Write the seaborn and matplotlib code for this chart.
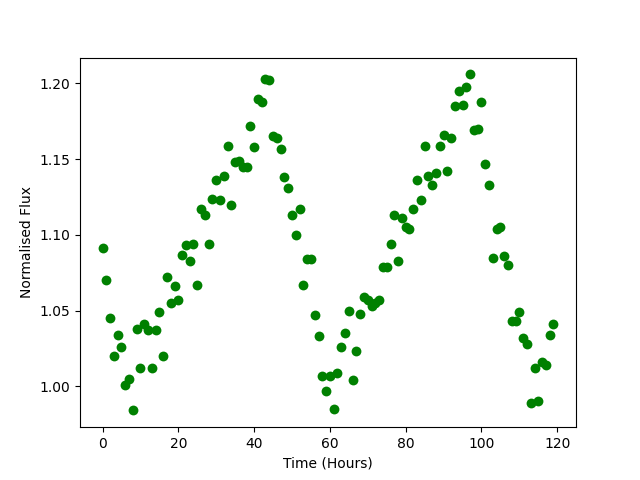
import matplotlib
matplotlib.use("Agg")
import matplotlib.pyplot as plt
import numpy as np
import pandas as pd
import seaborn as sns

# time in hours, one reading per hour
hours = list(range(120))

flux = [
    1.091, 1.070, 1.045, 1.020, 1.034, 1.026, 1.001, 1.005, 0.984, 1.038,
    1.012, 1.041, 1.037, 1.012, 1.037, 1.049, 1.020, 1.072, 1.055, 1.066,
    1.057, 1.087, 1.093, 1.083, 1.094, 1.067, 1.117, 1.113, 1.094, 1.124,
    1.136, 1.123, 1.139, 1.159, 1.120, 1.148, 1.149, 1.145, 1.145, 1.172,
    1.158, 1.190, 1.188, 1.203, 1.202, 1.165, 1.164, 1.157, 1.138, 1.131,
    1.113, 1.100, 1.117, 1.067, 1.084, 1.084, 1.047, 1.033, 1.007, 0.997,
    1.007, 0.985, 1.009, 1.026, 1.035, 1.050, 1.004, 1.023, 1.048, 1.059,
    1.057, 1.053, 1.055, 1.057, 1.079, 1.079, 1.094, 1.113, 1.083, 1.111,
    1.105, 1.104, 1.117, 1.136, 1.123, 1.159, 1.139, 1.133, 1.141, 1.159,
    1.166, 1.142, 1.164, 1.185, 1.195, 1.186, 1.198, 1.206, 1.169, 1.170,
    1.188, 1.147, 1.133, 1.085, 1.104, 1.105, 1.086, 1.080, 1.043, 1.043,
    1.049, 1.032, 1.028, 0.989, 1.012, 0.990, 1.016, 1.014, 1.034, 1.041,
]

df = pd.DataFrame({"Time (Hours)": hours, "Normalised Flux": flux})

fig, ax = plt.subplots(figsize=(6.4, 4.8), dpi=100)
sns.scatterplot(data=df, x="Time (Hours)", y="Normalised Flux",
                color="green", s=50, linewidth=0, ax=ax)
ax.set_yticks([1.00, 1.05, 1.10, 1.15, 1.20])
fig.savefig("out.png", dpi=100)
